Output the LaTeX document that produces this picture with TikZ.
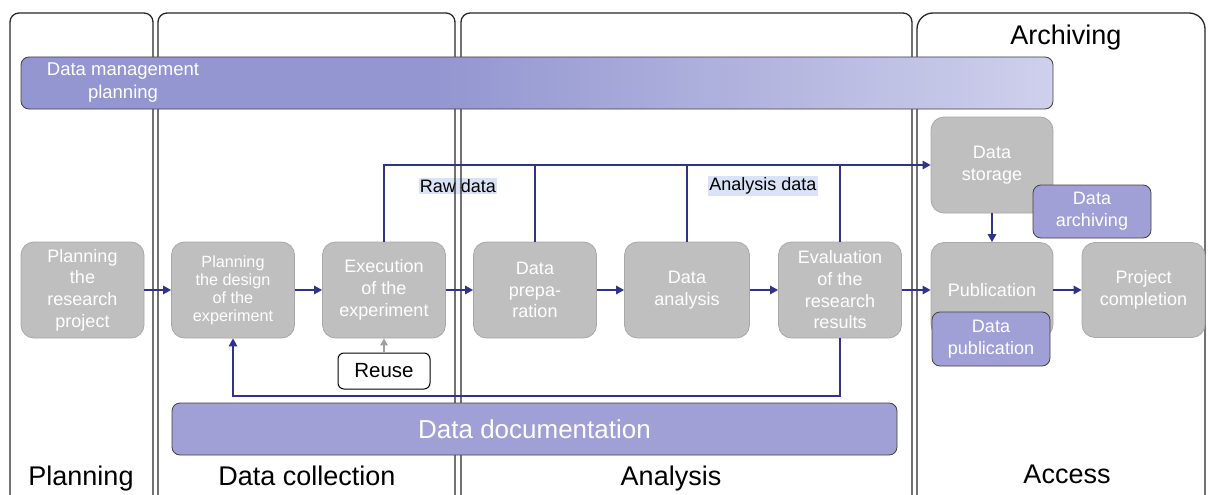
\documentclass[tikz,border=0pt]{standalone}
\usepackage{fontspec}
\setmainfont{Liberation Sans}
\usetikzlibrary{arrows.meta}
\definecolor{navy}{HTML}{30338A}
\definecolor{boxfill}{HTML}{BFBFBF}
\definecolor{boxline}{HTML}{A8A8A8}
\definecolor{purp}{HTML}{A0A0D6}
\definecolor{purpline}{HTML}{404040}
\definecolor{dmpA}{HTML}{9396D0}
\definecolor{dmpB}{HTML}{CFD0EC}
\definecolor{hlcol}{HTML}{DAE3F5}
\definecolor{reusearrow}{HTML}{A0A0A0}
\pgfdeclarehorizontalshading{dmpshade}{100bp}{color(0bp)=(dmpA); color(25bp)=(dmpA); color(45bp)=(dmpA); color(75bp)=(dmpB); color(100bp)=(dmpB)}
\tikzset{
  lane/.style={draw=black!85, line width=1.3pt, rounded corners=9pt},
  proc/.style={draw=boxline, fill=boxfill, line width=0.8pt, rounded corners=13pt,
    minimum width=123pt, minimum height=96pt, inner sep=0pt, align=center,
    text=white, font=\fontsize{18}{21.7}\selectfont},
  pbox/.style={draw=purpline, fill=purp, line width=0.8pt, rounded corners=8pt,
    minimum width=118pt, minimum height=54pt, inner sep=0pt, align=center,
    text=white, font=\fontsize{18}{21.7}\selectfont},
  reusebox/.style={draw=black, fill=white, line width=1pt, rounded corners=6pt,
    minimum width=92pt, minimum height=36pt, inner sep=0pt,
    font=\fontsize{20.5}{24}\selectfont},
  hl/.style={fill=hlcol, inner xsep=1pt, inner ysep=1.5pt, font=\fontsize{18}{21}\selectfont},
  lanelbl/.style={anchor=base, font=\fontsize{27}{30}\selectfont},
  arr/.style={draw=navy, line width=1.4pt, -{Triangle[length=8pt,width=8.5pt]}},
  conn/.style={draw=navy, line width=1.4pt},
  grayarr/.style={draw=reusearrow, line width=1.3pt, -{Triangle[length=7pt,width=7.5pt]}}
}
\begin{document}
\begin{tikzpicture}[x=1pt,y=-1pt]
\useasboundingbox (0,0) rectangle (1208,495);
\clip (0,0) rectangle (1208,495);
% highlight labels (under lane lines)
\node[hl] (raw) at (458,186) {Raw data};
\node[hl] (adata) at (763,186) {Analysis data};
% lanes
\draw[lane] (10,530) -- (10,13) -- (153,13) -- (153,530);
\draw[lane] (158,530) -- (158,13) -- (455,13) -- (455,530);
\draw[lane] (461,530) -- (461,13) -- (912,13) -- (912,530);
\draw[lane,rounded corners=16pt] (917,530) -- (917,13) -- (1205,13) -- (1205,530);
% lane labels
\node[lanelbl] (lplan) at (81,485) {Planning};
\node[lanelbl] (lcoll) at (307,485) {Data collection};
\node[lanelbl] (lanal) at (671,485) {Analysis};
\node[lanelbl] (lacc) at (1067,483) {Access};
\node[lanelbl] (larch) at (1066,45) {Archiving};
% bars
\node[draw=purpline, line width=0.8pt, rounded corners=8pt, shading=dmpshade,
  minimum width=1032pt, minimum height=52pt, inner sep=0pt] (dmp) at (537,83) {};
\node[text=white, align=center, font=\fontsize{18.5}{23}\selectfont] (dmpt) at (123,83) {Data management\\planning};
\node[pbox, minimum width=725pt, minimum height=52pt, font=\fontsize{26}{30}\selectfont] (doc) at (534.5,429) {Data documentation};
% process boxes
\node[proc] (plan) at (82.5,290) {Planning\\the\\research\\project};
\node[proc, font=\fontsize{16.2}{18}\selectfont] (design) at (233,290) {Planning\\the design\\of the\\experiment};
\node[proc] (exec) at (384,290) {Execution\\of the\\experiment};
\node[proc] (prep) at (535,290) {Data\\prepa-\\ration};
\node[proc, minimum width=125pt] (anal) at (687,290) {Data\\analysis};
\node[proc] (eval) at (840,290) {Evaluation\\of the\\research\\results};
\node[proc, minimum width=122pt] (stor) at (992,165) {Data\\storage};
\node[proc, minimum width=122pt, minimum height=95pt] (pub) at (992,290) {Publication};
\node[proc, minimum height=95pt] (comp) at (1143.5,290) {Project\\completion};
\node[pbox, minimum height=53pt] (arch) at (1092,211.5) {Data\\archiving};
\node[pbox] (dpub) at (991,339) {Data\\publication};
\node[reusebox] (reuse) at (384,371) {Reuse};
% connectors
\draw[arr] (plan) -- (design);
\draw[arr] (design) -- (exec);
\draw[arr] (exec) -- (prep);
\draw[arr] (prep) -- (anal);
\draw[arr] (anal) -- (eval);
\draw[arr] (eval) -- (pub);
\draw[arr] (pub) -- (comp);
\draw[arr] (stor) -- (pub);
\draw[arr] (exec.north) |- (stor.west);
\draw[conn] (prep.north) -- (prep.north |- stor.west);
\draw[conn] (anal.north) -- (anal.north |- stor.west);
\draw[conn] (eval.north) -- (eval.north |- stor.west);
\coordinate (fb) at (233,396);
\draw[arr] (eval.south) |- (fb) -- (design.south);
\draw[grayarr] (reuse) -- (exec);
\end{tikzpicture}
\end{document}
